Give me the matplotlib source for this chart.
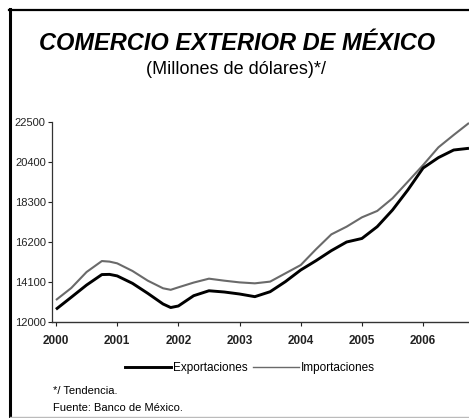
import matplotlib
matplotlib.use("Agg")
import matplotlib.pyplot as plt
from matplotlib.lines import Line2D

plt.rcParams['font.family'] = ['Liberation Sans', 'DejaVu Sans']

# Time positions (fractional years)
periodo = [2000.0, 2000.25, 2000.5, 2000.75, 2000.875,
           2001.0, 2001.25, 2001.5, 2001.75, 2001.875,
           2002.0, 2002.25, 2002.5, 2002.75,
           2003.0, 2003.25, 2003.5, 2003.75,
           2004.0, 2004.25, 2004.5, 2004.75,
           2005.0, 2005.25, 2005.5, 2005.75,
           2006.0, 2006.25, 2006.5, 2006.75]

exportaciones = [12667, 13300, 13940, 14490, 14500,
                 14420, 14030, 13505, 12945, 12760,
                 12840, 13380, 13640, 13575,
                 13470, 13330, 13590, 14120,
                 14730, 15220, 15745, 16200,
                 16385, 17005, 17880, 18930,
                 20085, 20630, 21030, 21120]

importaciones = [13155, 13785, 14625, 15200, 15170,
                 15080, 14680, 14170, 13770, 13690,
                 13820, 14070, 14275, 14170,
                 14080, 14030, 14120, 14555,
                 14990, 15820, 16600, 17005,
                 17495, 17830, 18495, 19365,
                 20240, 21170, 21820, 22450]

y_ticks = [12000, 14100, 16200, 18300, 20400, 22500]
x_ticks = [2000, 2001, 2002, 2003, 2004, 2005, 2006]

W, H = 469, 418
fig = plt.figure(figsize=(W / 100, H / 100), dpi=100)
fig.patch.set_facecolor('white')

ax = fig.add_axes([52 / W, 1 - 322 / H, (W - 52) / W, 200 / H])
ax.plot(periodo, importaciones, color='#6a6a6a', lw=1.5, clip_on=False,
        solid_capstyle='butt', solid_joinstyle='round', zorder=3)
ax.plot(periodo, exportaciones, color='black', lw=2.1, clip_on=False,
        solid_capstyle='butt', solid_joinstyle='round', zorder=4)

ax.set_xlim(1999.935, 2006.75)
ax.set_ylim(12000, 22500)
ax.set_yticks(y_ticks)
ax.set_yticklabels([str(v) for v in y_ticks], fontsize=8)
ax.set_xticks(x_ticks)
ax.set_xticklabels([str(v) for v in x_ticks], fontsize=8.5, fontweight='semibold')
ax.tick_params(axis='y', length=3, width=0.8, pad=1.5, colors='#222222')
ax.tick_params(axis='x', length=3, width=0.8, pad=6, colors='#222222')
ax.spines['top'].set_visible(False)
ax.spines['right'].set_visible(False)
ax.spines['left'].set_linewidth(0.9)
ax.spines['bottom'].set_linewidth(1.0)
ax.spines['left'].set_color('#333333')
ax.spines['bottom'].set_color('#333333')
ax.set_facecolor('none')

# Titles
fig.text(237 / W, 1 - 43 / H, 'COMERCIO EXTERIOR DE MÉXICO', fontsize=17,
         fontweight='bold', fontstyle='italic', ha='center', va='center')
fig.text(236 / W, 1 - 70 / H, '(Millones de dólares)*/', fontsize=13,
         ha='center', va='center')

# Legend
handles = [Line2D([], [], color='black', lw=2.1),
           Line2D([], [], color='#6a6a6a', lw=1.0)]
fig.legend(handles, ['Exportaciones', 'Importaciones'], ncol=2,
           loc='center', bbox_to_anchor=(250 / W, 1 - 368 / H),
           frameon=False, fontsize=8.5, handlelength=3.9, handletextpad=0.15,
           columnspacing=0.5, borderpad=0)

# Footnotes
fig.text(53 / W, 1 - 391 / H, '*/ Tendencia.', fontsize=8, ha='left', va='center')
fig.text(53 / W, 1 - 408 / H, 'Fuente: Banco de México.', fontsize=8,
         ha='left', va='center')

# Frame of the scanned box
fig.add_artist(Line2D([10 / W, 10 / W], [0, 1 - 9 / H], color='black', lw=2.2,
                      transform=fig.transFigure))
fig.add_artist(Line2D([9 / W, 1], [1 - 10 / H, 1 - 10 / H], color='black', lw=1.6,
                      transform=fig.transFigure))
fig.add_artist(Line2D([10 / W, 1], [1 - 416.5 / H, 1 - 416.5 / H], color='#bbbbbb',
                      lw=1.0, transform=fig.transFigure))

fig.savefig('out.png', dpi=100, facecolor='white')
